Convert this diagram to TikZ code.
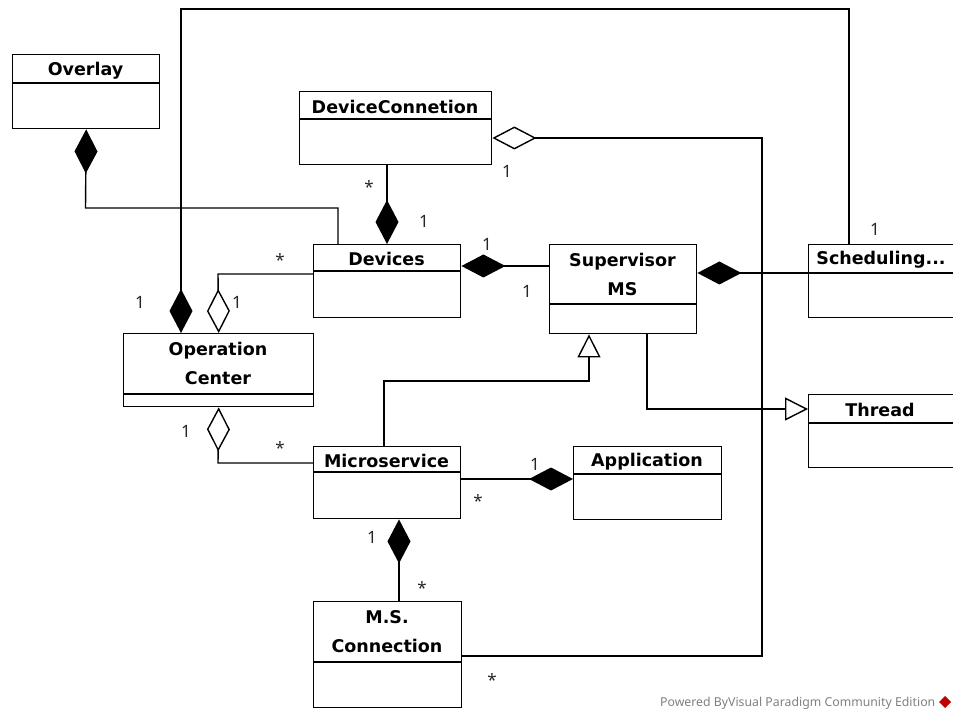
\documentclass[tikz,border=0pt]{standalone}
\usepackage{fontspec}
\setmainfont{Noto Sans}
\newfontfamily\titlefont{DejaVu Sans}[BoldFont={DejaVu Sans Bold}]
\usetikzlibrary{arrows.meta,calc}
\begin{document}
\begin{tikzpicture}[x=1pt,y=-1pt,
  line width=1.4pt,
  cls/.style={draw, rectangle, inner sep=0pt, anchor=north west, fill=white},
  ttl/.style={font=\titlefont\bfseries\fontsize{17.5}{29}\selectfont, align=center, inner sep=0pt},
  mult/.style={font=\fontsize{17}{20}\selectfont, inner sep=0pt, text=black!85},
  fdia/.style={{Diamond[length=44pt,width=23pt,fill=black]}-},
  odia/.style={{Diamond[length=44pt,width=23pt,open]}-},
  gen/.style={-{Triangle[length=23pt,width=23pt,open]}},
  wm/.style={font=\fontsize{12.3}{14}\selectfont, text=black!50, inner sep=0pt}
]
\useasboundingbox (0,0) rectangle (953,711);
\clip (0,0) rectangle (953,711);

% ---------- classes ----------
\node[cls, minimum width=147, minimum height=74] (overlay) at (12,54) {};
\draw (12,83) -- (159,83);
\node[ttl] (tOverlay) at (85.5,71) {Overlay};

\node[cls, minimum width=192, minimum height=73] (devconn) at (299,91) {};
\draw (299,119) -- (491,119);
\node[ttl] (tDevconn) at (395,107) {DeviceConnetion};

\node[cls, minimum width=147, minimum height=73] (devices) at (313,244) {};
\draw (313,271) -- (460,271);
\node[ttl] (tDevices) at (386.5,259) {Devices};

\node[cls, minimum width=147, minimum height=89] (superv) at (549,244) {};
\draw (549,304) -- (696,304);
\node[ttl] (tSuperv) at (622.5,274) {Supervisor\\MS};

\node[cls, minimum width=147, minimum height=73] (sched) at (808,244) {};
\draw (808,273) -- (955,273);
\node[ttl] (tSched) at (881,260) {Scheduling...};

\node[cls, minimum width=190, minimum height=73] (opc) at (123,333) {};
\draw (123,394) -- (313,394);
\node[ttl] (tOpc) at (218,363) {Operation\\Center};

\node[cls, minimum width=147, minimum height=73] (thread) at (808,394) {};
\draw (808,423) -- (955,423);
\node[ttl] (tThread) at (880,410) {Thread};

\node[cls, minimum width=147, minimum height=72] (micro) at (313,446) {};
\draw (313,472) -- (460,472);
\node[ttl] (tMicro) at (386.5,461) {Microservice};

\node[cls, minimum width=148, minimum height=73] (app) at (573,446) {};
\draw (573,474) -- (721,474);
\node[ttl] (tApp) at (647,462) {Application};

\node[cls, minimum width=148, minimum height=106] (msconn) at (313,601) {};
\draw (313,662) -- (461,662);
\node[ttl] (tMsconn) at (387,632) {M.S.\\Connection};

% ---------- helper coordinates ----------
\coordinate (c1) at (85.5,208);
\coordinate (c2) at (338,208);
\coordinate (c3) at (181,9);
\coordinate (c4) at (849,9);
\coordinate (c5) at (762,138);
\coordinate (c6) at (762,656);
\coordinate (c7) at (218,274);
\coordinate (c8) at (218,463);
\coordinate (c9) at (384,381);
\coordinate (c10) at (589,381);
\coordinate (c11) at (647,409);

% ---------- connectors ----------
\draw[fdia] (overlay.south) -- (c1) -- (c2) -- (c2 |- devices.north);
\draw[fdia] (opc.north -| c3) -- (c3) -- (c4) -- (c4 |- sched.north);
\draw[fdia] (devices.north -| 387,0) -- (devconn.south -| 387,0);
\draw[odia] (devconn.east |- c5) -- (c5) -- (c6) -- (c6 -| msconn.east);
\draw[fdia] (devices.east |- 0,266) -- (superv.west |- 0,266);
\draw[fdia] (superv.east |- 0,273) -- (sched.west |- 0,273);
\draw[odia] (opc.north) -- (c7) -- (c7 -| devices.west);
\draw[gen] (micro.north -| c9) -- (c9) -- (c10) -- (c10 |- superv.south);
\draw[gen] (superv.south -| c11) -- (c11) -- (c11 -| thread.west);
\draw[odia] (opc.south) -- (c8) -- (c8 -| micro.west);
\draw[fdia] (app.west |- 0,479) -- (micro.east |- 0,479);
\draw[fdia] (micro.south -| 399,0) -- (msconn.north -| 399,0);

% ---------- multiplicities ----------
\node[mult] (m1) at (875,229) {1};
\node[mult] (m2) at (140,302) {1};
\node[mult] (m3) at (237,302) {1};
\node[mult] (m4) at (280,260) {*};
\node[mult] (m5) at (369,187) {*};
\node[mult] (m6) at (424,221) {1};
\node[mult] (m7) at (507,171) {1};
\node[mult] (m8) at (487,244) {1};
\node[mult] (m9) at (527,291) {1};
\node[mult] (m10) at (186,431) {1};
\node[mult] (m11) at (280,448) {*};
\node[mult] (m12) at (478,501) {*};
\node[mult] (m13) at (535,464) {1};
\node[mult] (m14) at (372,537) {1};
\node[mult] (m15) at (422,588) {*};
\node[mult] (m16) at (492,680) {*};

% ---------- watermark ----------
\node[wm, anchor=east] (wmtext) at (936,703) {Powered ByVisual Paradigm Community Edition};
\fill[red!75!black] (945,696) -- (951,702) -- (945,708) -- (939,702) -- cycle;
\end{tikzpicture}
\end{document}
